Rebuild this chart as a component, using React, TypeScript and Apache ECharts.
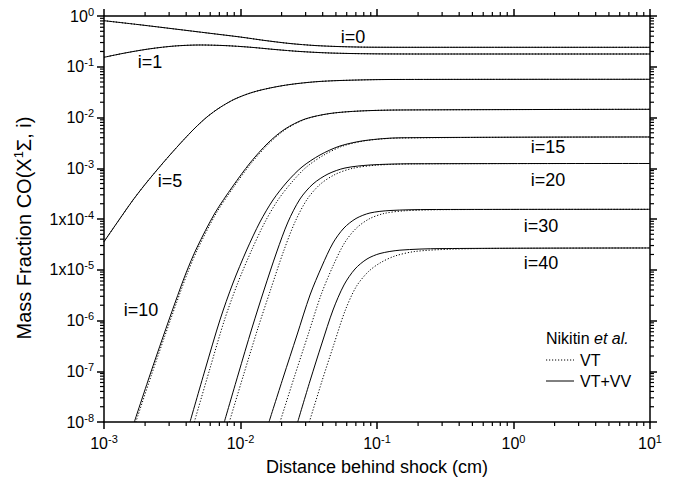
import React, { useEffect, useRef } from "react";
import * as echarts from "echarts";

const FONT = "'Liberation Sans', Arial, sans-serif";

// axis ranges
const X_MIN = 1e-3;
const X_MAX = 10;
const Y_MIN = 1e-8;
const Y_MAX = 1;

// minor tick structure (log decades)
const MINOR_MULTIPLIERS = [2, 3, 4, 5, 6, 7, 8, 9];
const X_DECADES = [1e-3, 1e-2, 1e-1, 1];
const Y_DECADES = [1e-8, 1e-7, 1e-6, 1e-5, 1e-4, 1e-3, 1e-2, 1e-1];

// VT+VV (solid) curves: [distance behind shock (cm), mass fraction]
const VTVV_I0: [number, number][] = [[1e-3, 0.808], [1.835e-3, 0.671], [3.31e-3, 0.554], [5.98e-3, 0.456], [9.92e-3, 0.386], [0.01512, 0.329], [0.02305, 0.287], [0.03514, 0.262], [0.05357, 0.2495], [0.0888, 0.2427], [0.2065, 0.2416], [10, 0.2416]];
const VTVV_I1: [number, number][] = [[1e-3, 0.1536], [1.425e-3, 0.1866], [2.17e-3, 0.2258], [3.31e-3, 0.2564], [5.05e-3, 0.2683], [7.7e-3, 0.2611], [0.01174, 0.2427], [0.0179, 0.2187], [0.02729, 0.1998], [0.04529, 0.1866], [0.0888, 0.1799], [0.2065, 0.1783], [10, 0.1783]];
const VTVV_I5: [number, number][] = [[1e-3, 3.57e-5], [1.31e-3, 1.023e-4], [1.632e-3, 2.37e-4], [1.997e-3, 4.79e-4], [2.445e-3, 9.24e-4], [3.04e-3, 1.825e-3], [3.79e-3, 3.52e-3], [4.64e-3, 6.21e-3], [5.68e-3, 0.01023], [7.07e-3, 0.01574], [9.11e-3, 0.02317], [0.01214, 0.03111], [0.01644, 0.03812], [0.02305, 0.04469], [0.03514, 0.0505], [0.05357, 0.05358], [0.1245, 0.0561], [10, 0.0566]];
const VTVV_I10: [number, number][] = [[1.667e-3, 1e-8], [2.17e-3, 8.43e-8], [2.705e-3, 4.73e-7], [3.31e-3, 2.21e-6], [3.99e-3, 8.63e-6], [4.78e-3, 2.685e-5], [6.5e-3, 1.313e-4], [8.81e-3, 4.47e-4], [0.01174, 1.27e-3], [0.0159, 3.15e-3], [0.02118, 5.93e-3], [0.02969, 9.33e-3], [0.04529, 0.012], [0.075, 0.01343], [0.1472, 0.01406], [10, 0.01451]];
const VTVV_I15: [number, number][] = [[4.266e-3, 1e-8], [5.495e-3, 1.059e-7], [7.07e-3, 1.023e-6], [8.81e-3, 5.48e-6], [0.0111, 2.45e-5], [0.01389, 8.73e-5], [0.0173, 2.37e-4], [0.02191, 5.36e-4], [0.02822, 1.059e-3], [0.03823, 1.825e-3], [0.05357, 2.744e-3], [0.0817, 3.52e-3], [0.1472, 3.98e-3], [10, 4.13e-3]];
const VTVV_I20: [number, number][] = [[7.61e-3, 1e-8], [9.59e-3, 8.43e-8], [0.01214, 7.11e-7], [0.01487, 3.99e-6], [0.01842, 2.24e-5], [0.02228, 8.73e-5], [0.02729, 2.48e-4], [0.03397, 4.9e-4], [0.04375, 7.7e-4], [0.05829, 1.011e-3], [0.0888, 1.159e-3], [0.1745, 1.225e-3], [10, 1.241e-3]];
const VTVV_I30: [number, number][] = [[0.01617, 1e-8], [0.02049, 7.36e-8], [0.02594, 5.18e-7], [0.0323, 3.18e-6], [0.03955, 1.186e-5], [0.04761, 3.37e-5], [0.05729, 6.65e-5], [0.07019, 1.023e-4], [0.0888, 1.313e-4], [0.1245, 1.47e-4], [0.2445, 1.538e-4], [10, 1.552e-4]];
const VTVV_I40: [number, number][] = [[0.02624, 1e-8], [0.0323, 6.43e-8], [0.03955, 3.6e-7], [0.04761, 1.61e-6], [0.05729, 5.01e-6], [0.069, 1.035e-5], [0.08448, 1.629e-5], [0.1052, 2.09e-5], [0.1472, 2.43e-5], [0.2893, 2.61e-5], [10, 2.685e-5]];

// VT (dotted) curves
const VT_I0: [number, number][] = [[1e-3, 0.808], [1.835e-3, 0.671], [3.31e-3, 0.554], [5.98e-3, 0.456], [9.92e-3, 0.386], [0.01512, 0.329], [0.02305, 0.287], [0.03514, 0.262], [0.05357, 0.2495], [0.0888, 0.2427], [0.2065, 0.2416], [10, 0.2416]];
const VT_I1: [number, number][] = [[1e-3, 0.1536], [1.425e-3, 0.1866], [2.17e-3, 0.2258], [3.31e-3, 0.2564], [5.05e-3, 0.2683], [7.7e-3, 0.2611], [0.01174, 0.2427], [0.0179, 0.2187], [0.02729, 0.1998], [0.04529, 0.1866], [0.0888, 0.1799], [0.2065, 0.1783], [10, 0.1783]];
const VT_I5: [number, number][] = [[1e-3, 3.57e-5], [1.31e-3, 1.023e-4], [1.632e-3, 2.37e-4], [1.997e-3, 4.79e-4], [2.445e-3, 9.24e-4], [3.04e-3, 1.825e-3], [3.79e-3, 3.52e-3], [4.64e-3, 6.21e-3], [5.68e-3, 0.01023], [7.07e-3, 0.01574], [9.11e-3, 0.02317], [0.01214, 0.03111], [0.01644, 0.03812], [0.02305, 0.04469], [0.03514, 0.0505], [0.05357, 0.05358], [0.1245, 0.0561], [10, 0.0566]];
const VT_I10: [number, number][] = [[1.71e-3, 1e-8], [2.225e-3, 8.43e-8], [2.773e-3, 4.73e-7], [3.393e-3, 2.21e-6], [4.09e-3, 8.63e-6], [4.9e-3, 2.685e-5], [6.66e-3, 1.313e-4], [9.03e-3, 4.47e-4], [0.01203, 1.27e-3], [0.0163, 3.15e-3], [0.0216, 5.93e-3], [0.0301, 9.33e-3], [0.0457, 0.012], [0.075, 0.01343], [0.1472, 0.01406], [10, 0.01451]];
const VT_I15: [number, number][] = [[4.587e-3, 1e-8], [5.93e-3, 1.059e-7], [7.63e-3, 1.023e-6], [9.55e-3, 5.48e-6], [0.01208, 2.45e-5], [0.01512, 8.73e-5], [0.01882, 2.37e-4], [0.02384, 5.36e-4], [0.03045, 1.059e-3], [0.04089, 1.825e-3], [0.05633, 2.744e-3], [0.08448, 3.52e-3], [0.1472, 3.94e-3], [10, 4.13e-3]];
const VT_I20: [number, number][] = [[8.28e-3, 1e-8], [0.01052, 8.43e-8], [0.01343, 7.11e-7], [0.01659, 3.99e-6], [0.02059, 2.24e-5], [0.02508, 8.73e-5], [0.0307, 2.42e-4], [0.03823, 4.79e-4], [0.04925, 7.53e-4], [0.06558, 9.89e-4], [0.0983, 1.148e-3], [0.1898, 1.218e-3], [10, 1.241e-3]];
const VT_I30: [number, number][] = [[0.01948, 1e-8], [0.02465, 7.36e-8], [0.03122, 5.18e-7], [0.03888, 3.18e-6], [0.04761, 1.186e-5], [0.05778, 3.37e-5], [0.07019, 6.5e-5], [0.08737, 1.0e-4], [0.1125, 1.283e-4], [0.1604, 1.452e-4], [0.3425, 1.531e-4], [10, 1.552e-4]];
const VT_I40: [number, number][] = [[0.03192, 1e-8], [0.03955, 6.43e-8], [0.04842, 3.44e-7], [0.05829, 1.54e-6], [0.07019, 4.57e-6], [0.0859, 9.03e-6], [0.1052, 1.359e-5], [0.1355, 1.866e-5], [0.1898, 2.29e-5], [0.3425, 2.54e-5], [0.7963, 2.64e-5], [10, 2.685e-5]];

const VTVV_CURVES = [VTVV_I0, VTVV_I1, VTVV_I5, VTVV_I10, VTVV_I15, VTVV_I20, VTVV_I30, VTVV_I40];
const VT_CURVES = [VT_I0, VT_I1, VT_I5, VT_I10, VT_I15, VT_I20, VT_I30, VT_I40];

const CURVE_LABELS = ["i=0", "i=1", "i=5", "i=10", "i=15", "i=20", "i=30", "i=40"];
const LEGEND_TITLE = "Nikitin ";
const LEGEND_ITALIC = "et al.";
const LEGEND_ITEMS = ["VT", "VT+VV"];
const X_NAME = "Distance behind shock (cm)";
const Y_NAME = "{m|Mass Fraction CO(X}{s|1}{m|Σ, i)}";

const LABEL_POS: [number, number][] = [
  [353, 37], [150, 62], [170, 181], [141, 310],
  [548, 147], [548, 180], [541, 226], [541, 263],
];

function expOf(v: number) {
  return Math.round(Math.log10(v));
}

const richTick = {
  b: { fontSize: 16, fontFamily: FONT, color: "#000", lineHeight: 20 },
  s: { fontSize: 11, fontFamily: FONT, color: "#000", lineHeight: 11, verticalAlign: "top" },
};

function buildOption() {
  const axisLine = { show: true, onZero: false, lineStyle: { color: "#000", width: 1.5 } };
  const axisTick = { show: true, inside: false, length: 7, lineStyle: { color: "#000", width: 1.5 } };

  const minorData: number[][] = [];
  X_DECADES.forEach((d) => MINOR_MULTIPLIERS.forEach((m) => minorData.push([m * d, Y_MIN, 0])));
  Y_DECADES.forEach((d) => MINOR_MULTIPLIERS.forEach((m) => minorData.push([X_MIN, m * d, 1])));

  const series: any[] = [];
  VT_CURVES.forEach((data) =>
    series.push({
      type: "line",
      data,
      symbol: "none",
      smooth: 0.3,
      silent: true,
      lineStyle: { color: "#000", width: 1, type: [1.2, 1.8] },
    })
  );
  VTVV_CURVES.forEach((data) =>
    series.push({
      type: "line",
      data,
      symbol: "none",
      smooth: 0.3,
      silent: true,
      lineStyle: { color: "#000", width: 1, type: "solid" },
    })
  );
  series.push({
    type: "custom",
    silent: true,
    clip: false,
    data: minorData,
    renderItem: (params: any, api: any) => {
      const v0 = api.value(0);
      const v1 = api.value(1);
      const kind = api.value(2);
      const len = 4;
      if (kind === 0) {
        const pb = api.coord([v0, Y_MIN]);
        const pt = api.coord([v0, Y_MAX]);
        return {
          type: "group",
          children: [
            { type: "line", shape: { x1: pb[0], y1: pb[1], x2: pb[0], y2: pb[1] + len }, style: { stroke: "#000", lineWidth: 1.2 } },
            { type: "line", shape: { x1: pt[0], y1: pt[1], x2: pt[0], y2: pt[1] - len }, style: { stroke: "#000", lineWidth: 1.2 } },
          ],
        };
      }
      const pl = api.coord([X_MIN, v1]);
      const pr = api.coord([X_MAX, v1]);
      return {
        type: "group",
        children: [
          { type: "line", shape: { x1: pl[0], y1: pl[1], x2: pl[0] - len, y2: pl[1] }, style: { stroke: "#000", lineWidth: 1.2 } },
          { type: "line", shape: { x1: pr[0], y1: pr[1], x2: pr[0] + len, y2: pr[1] }, style: { stroke: "#000", lineWidth: 1.2 } },
        ],
      };
    },
  });

  const graphic: any[] = CURVE_LABELS.map((t, k) => ({
    type: "text",
    x: LABEL_POS[k][0],
    y: LABEL_POS[k][1],
    silent: true,
    style: { text: t, fontSize: 18, fontFamily: FONT, fill: "#000", align: "center", verticalAlign: "middle" },
  }));
  graphic.push({
    type: "text",
    x: 24,
    y: 228,
    rotation: Math.PI / 2,
    silent: true,
    style: {
      text: Y_NAME,
      align: "center",
      verticalAlign: "middle",
      rich: {
        m: { fontSize: 20, fontFamily: FONT, fill: "#000", lineHeight: 24 },
        s: { fontSize: 13, fontFamily: FONT, fill: "#000", verticalAlign: "top", lineHeight: 13 },
      },
    },
  });
  const lx = 546;
  graphic.push({
    type: "text",
    x: lx,
    y: 338,
    silent: true,
    style: {
      text: `{n|${LEGEND_TITLE}}{i|${LEGEND_ITALIC}}`,
      verticalAlign: "middle",
      rich: {
        n: { fontSize: 16, fontFamily: FONT, fill: "#000" },
        i: { fontSize: 16, fontFamily: FONT, fontStyle: "italic", fill: "#000" },
      },
    },
  });
  LEGEND_ITEMS.forEach((t, k) => {
    const y = 360 + k * 21;
    graphic.push({
      type: "line",
      silent: true,
      shape: { x1: lx, y1: y, x2: lx + 28, y2: y },
      style: { stroke: "#000", lineWidth: 1, lineDash: k === 0 ? [1.2, 1.8] : null },
    });
    graphic.push({
      type: "text",
      x: lx + 34,
      y,
      silent: true,
      style: { text: t, fontSize: 16, fontFamily: FONT, fill: "#000", verticalAlign: "middle" },
    });
  });

  return {
    animation: false,
    backgroundColor: "#fff",
    grid: { left: 104, right: 29, top: 16, bottom: 71, containLabel: false },
    xAxis: [
      {
        type: "log",
        logBase: 10,
        min: X_MIN,
        max: X_MAX,
        position: "bottom",
        axisLine,
        axisTick,
        splitLine: { show: false },
        axisLabel: {
          margin: 11,
          formatter: (v: number) => `{b|10}{s|${expOf(v)}}`,
          rich: richTick,
        },
        name: X_NAME,
        nameLocation: "middle",
        nameGap: 36,
        nameTextStyle: { fontSize: 18, fontFamily: FONT, color: "#000" },
      },
      {
        type: "log",
        logBase: 10,
        min: X_MIN,
        max: X_MAX,
        position: "top",
        axisLine,
        axisTick,
        splitLine: { show: false },
        axisLabel: { show: false },
      },
    ],
    yAxis: [
      {
        type: "log",
        logBase: 10,
        min: Y_MIN,
        max: Y_MAX,
        position: "left",
        axisLine,
        axisTick,
        splitLine: { show: false },
        axisLabel: {
          margin: 10,
          formatter: (v: number) => {
            const e = expOf(v);
            return e === -4 || e === -5 ? `{b|1x10}{s|${e}}` : `{b|10}{s|${e}}`;
          },
          rich: richTick,
        },
      },
      {
        type: "log",
        logBase: 10,
        min: Y_MIN,
        max: Y_MAX,
        position: "right",
        axisLine,
        axisTick,
        splitLine: { show: false },
        axisLabel: { show: false },
      },
    ],
    series,
    graphic,
  };
}

export default function App() {
  const ref = useRef<HTMLDivElement>(null);
  useEffect(() => {
    document.body.style.margin = "0";
    const chart = echarts.init(ref.current!, undefined, { renderer: "svg" });
    chart.setOption(buildOption() as any);
    return () => chart.dispose();
  }, []);
  return <div ref={ref} style={{ width: 679, height: 493 }} />;
}
